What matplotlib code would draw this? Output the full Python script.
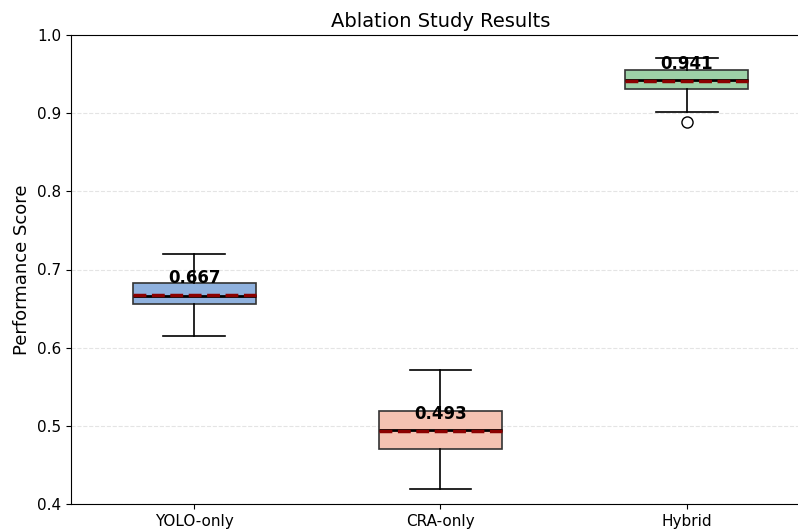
import matplotlib
matplotlib.use("Agg")
from matplotlib import pyplot as plt

# Values
labels = ["YOLO-only", "CRA-only", "Hybrid"]
whislo = [0.615, 0.419, 0.901]
q1 = [0.656, 0.470, 0.931]
medians = [0.666, 0.495, 0.942]
q3 = [0.683, 0.519, 0.955]
whishi = [0.720, 0.572, 0.971]
means = [0.667, 0.493, 0.941]
outliers = [[], [], [0.889]]
colors = ["#8fb1de", "#f4c2b2", "#9dd1a7"]

stats = []
for i in range(len(labels)):
    stats.append({"label": labels[i], "whislo": whislo[i], "q1": q1[i], "med": medians[i],
                  "q3": q3[i], "whishi": whishi[i], "mean": means[i], "fliers": outliers[i]})

fig = plt.figure(figsize=(7.98, 5.31), dpi=100)
ax = fig.add_axes([71 / 798, 27 / 531, 739 / 798, 469 / 531])

bp = ax.bxp(stats, positions=[1, 2, 3], widths=0.5, patch_artist=True,
            showmeans=True, meanline=True,
            boxprops=dict(edgecolor="#333333", linewidth=1.2),
            whiskerprops=dict(color="black", linewidth=1.2),
            capprops=dict(color="black", linewidth=1.2),
            medianprops=dict(color="black", linewidth=2),
            meanprops=dict(color="darkred", linestyle="--", linewidth=2.5),
            flierprops=dict(marker="o", markerfacecolor="none", markeredgecolor="black",
                            markersize=8))
for patch, c in zip(bp["boxes"], colors):
    patch.set_facecolor(c)

# mean labels
for i, m in enumerate(means):
    ax.text(i + 1, m + 0.011, f"{m:.3f}", ha="center", va="bottom",
            fontsize=12, fontweight="bold")

ax.set_xlim(0.5, 3.5)
ax.set_ylim(0.4, 1.0)
ax.set_title("Ablation Study Results", fontsize=14)
ax.set_ylabel("Performance Score", fontsize=13)
ax.tick_params(labelsize=11)
ax.yaxis.grid(True, linestyle="--", color="lightgray", alpha=0.6)
ax.set_axisbelow(True)

fig.savefig("out.png", dpi=100)
